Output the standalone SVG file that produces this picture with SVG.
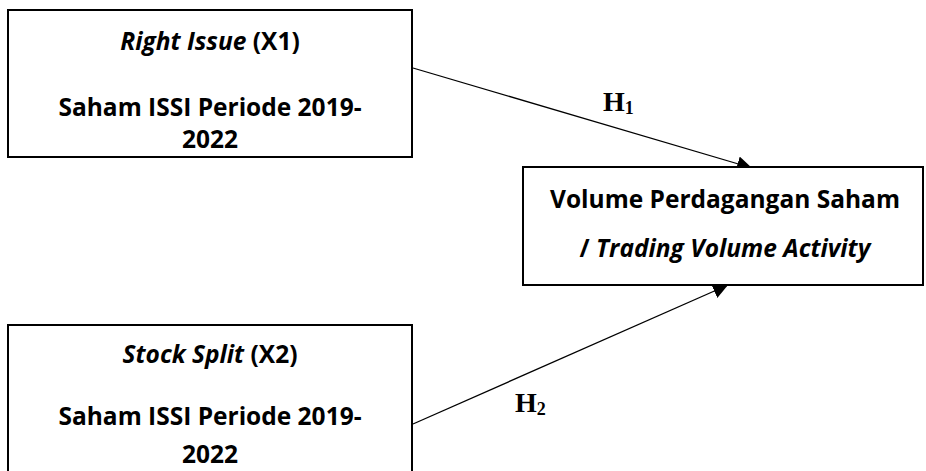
<svg xmlns="http://www.w3.org/2000/svg" width="926" height="471" viewBox="0 0 926 471">
<style>
.box{fill:#fff;stroke:#000;stroke-width:2}
.t{font-family:"Open Sans","Liberation Sans",sans-serif;font-weight:bold;font-size:24.5px;text-anchor:middle;fill:#000}
.i{font-style:italic}
.h{font-family:"Liberation Serif","Times New Roman",serif;font-weight:bold;font-size:28px;fill:#000}
.sub{font-size:18px}
.ln{stroke:#000;stroke-width:1.3;fill:none}
</style>
<defs>
<marker id="ahb" viewBox="0 0 10 10" refX="10" refY="5" markerWidth="15" markerHeight="15" markerUnits="userSpaceOnUse" orient="auto">
<path d="M0,0 L10,5 L0,10 z" fill="#000"/>
</marker>
</defs>
<g id="connectors">
<line class="ln" x1="413" y1="68" x2="752" y2="168" marker-end="url(#ahb)"/>
<line class="ln" x1="413" y1="424" x2="728" y2="285" marker-end="url(#ahb)"/>
<text class="h" x="603" y="111">H<tspan class="sub" dy="3">1</tspan></text>
<text class="h" x="515" y="412">H<tspan class="sub" dy="3">2</tspan></text>
</g>
<g id="x1">
<rect class="box" x="8" y="10" width="404" height="147"/>
<text class="t" x="210" y="50"><tspan class="i">Right Issue</tspan> (X1)</text>
<text class="t" x="210" y="116">Saham ISSI Periode 2019-</text>
<text class="t" x="210" y="148">2022</text>
</g>
<g id="y">
<rect class="box" x="523" y="167" width="400" height="118"/>
<text class="t" x="725" y="208">Volume Perdagangan Saham</text>
<text class="t" x="725" y="257">/ <tspan class="i">Trading Volume Activity</tspan></text>
</g>
<g id="x2">
<rect class="box" x="8" y="325" width="404" height="160"/>
<text class="t" x="210" y="363"><tspan class="i">Stock Split</tspan> (X2)</text>
<text class="t" x="210" y="425">Saham ISSI Periode 2019-</text>
<text class="t" x="210" y="463">2022</text>
</g>
</svg>
